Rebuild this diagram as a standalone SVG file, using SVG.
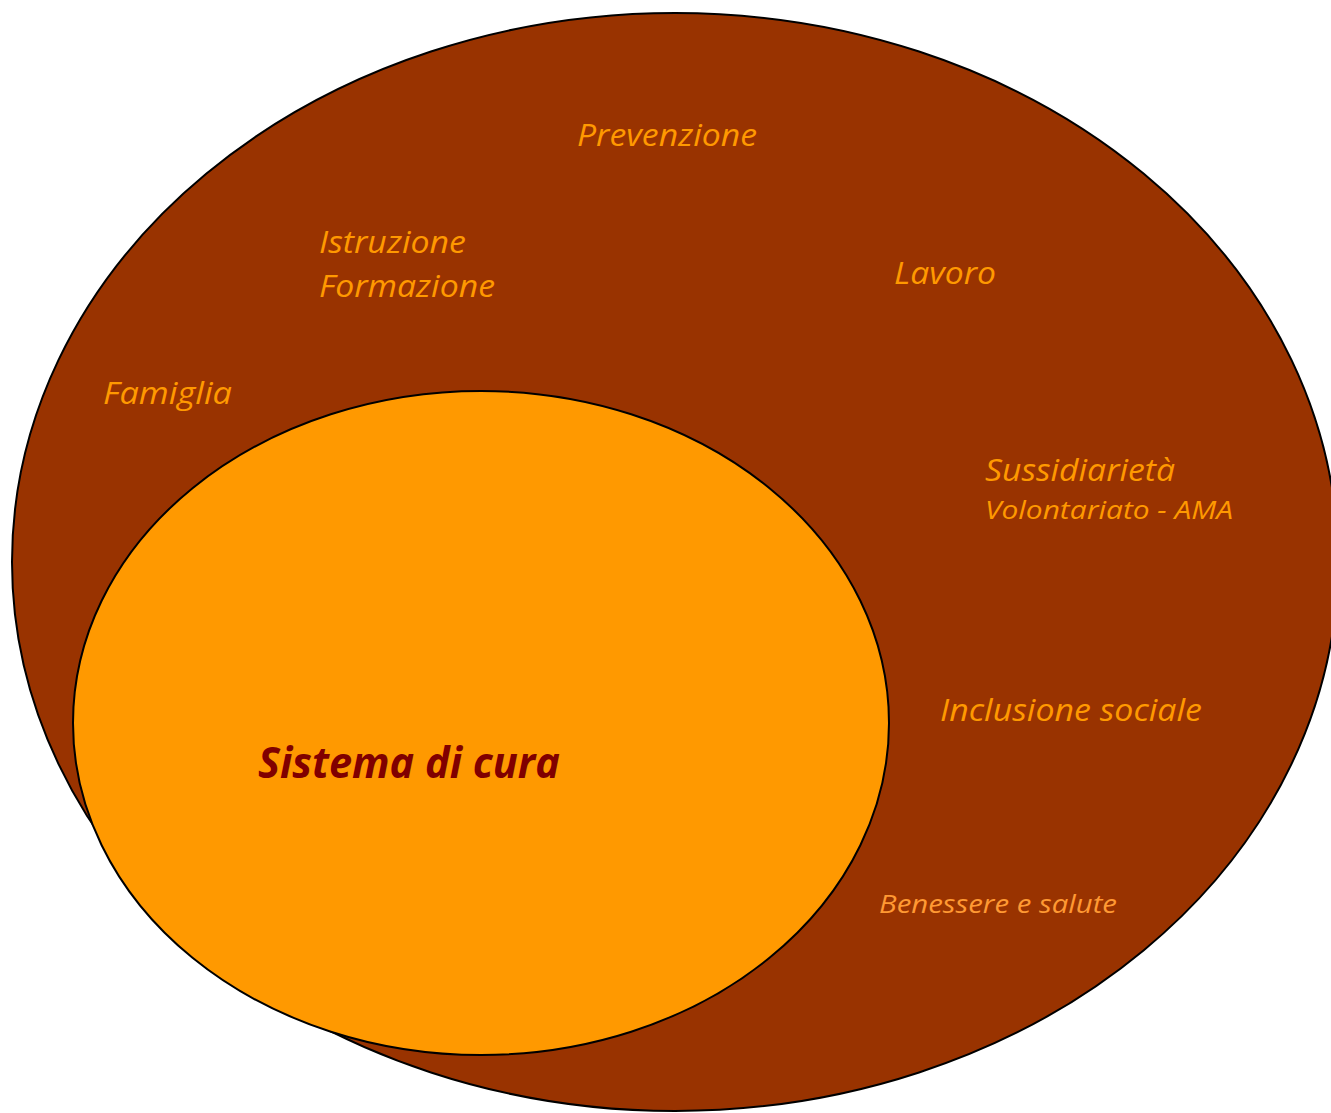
<svg xmlns="http://www.w3.org/2000/svg" width="1331" height="1113" viewBox="0 0 1331 1113">
<style>
.t{font-family:"Open Sans","Noto Sans","Liberation Sans",sans-serif;font-style:italic;fill:#FF9900;}
.big{font-size:31px;}
.small{font-size:25px;}
.core{font-family:"Open Sans","Noto Sans","Liberation Sans",sans-serif;font-style:italic;font-weight:bold;font-size:43px;fill:#800000;}
</style>
<rect width="1331" height="1113" fill="#ffffff"/>
<g id="outer">
<ellipse cx="675" cy="562" rx="663" ry="549" fill="#993300" stroke="#000000" stroke-width="2"/>
<text class="t big" x="577" y="146" textLength="180" lengthAdjust="spacingAndGlyphs">Prevenzione</text>
<text class="t big" x="319" y="253" textLength="147" lengthAdjust="spacingAndGlyphs">Istruzione</text>
<text class="t big" x="319" y="297" textLength="176" lengthAdjust="spacingAndGlyphs">Formazione</text>
<text class="t big" x="894" y="284" textLength="102" lengthAdjust="spacingAndGlyphs">Lavoro</text>
<text class="t big" x="103" y="404" textLength="129" lengthAdjust="spacingAndGlyphs">Famiglia</text>
<text class="t big" x="985" y="481" textLength="190" lengthAdjust="spacingAndGlyphs">Sussidiarietà</text>
<text class="t small" x="985" y="519" textLength="248" lengthAdjust="spacingAndGlyphs">Volontariato - AMA</text>
<text class="t big" x="940" y="721" textLength="262" lengthAdjust="spacingAndGlyphs">Inclusione sociale</text>
<text class="t small" x="879" y="913" textLength="238" lengthAdjust="spacingAndGlyphs" style="fill:#FF9933">Benessere e salute</text>
</g>
<g id="inner">
<ellipse cx="481" cy="723" rx="408" ry="332" fill="#FF9900" stroke="#000000" stroke-width="2"/>
<text class="core" x="258" y="778" textLength="302" lengthAdjust="spacingAndGlyphs">Sistema di cura</text>
</g>
<g id="connectors"/>
</svg>
